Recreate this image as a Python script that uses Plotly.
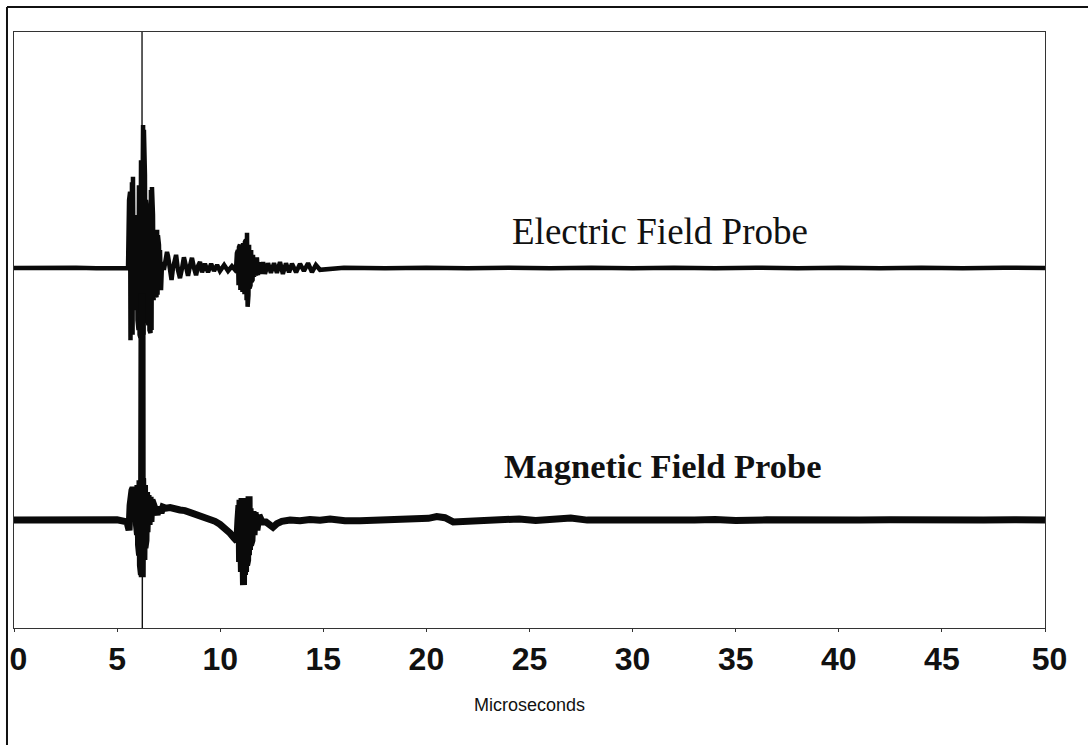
import plotly.graph_objects as go

# ---------------- data (time in microseconds, amplitude in arbitrary units) -------------
elec_t = [0, 1.0, 2.0, 3.0, 4.0, 5.0, 5.50,
          5.53, 5.58, 5.60, 5.63, 5.65, 5.67, 5.70, 5.72, 5.75, 5.77, 5.80, 5.82, 5.84,
          5.87, 5.89, 5.92, 5.94, 5.97, 5.99, 6.01, 6.04, 6.06, 6.09, 6.11, 6.13, 6.16,
          6.18, 6.21, 6.23, 6.26, 6.28, 6.30, 6.33, 6.35, 6.38, 6.40, 6.43, 6.45, 6.48,
          6.50, 6.52, 6.55, 6.57, 6.60, 6.62, 6.64, 6.67, 6.69, 6.72, 6.74, 6.77, 6.79,
          6.81, 6.84, 6.86, 6.89, 6.91, 6.94, 6.96, 6.98, 7.01, 7.03, 7.06, 7.08, 7.13,
          7.18, 7.27, 7.37, 7.42, 7.47, 7.57, 7.64, 7.71, 7.81, 7.86, 7.95, 8.05, 8.15,
          8.24, 8.34, 8.44, 8.53, 8.63, 8.73, 8.83, 8.92, 9.02, 9.12, 9.26, 9.41, 9.56,
          9.70, 9.85, 9.99, 10.19, 10.38, 10.57, 10.72, 10.77,
          10.81, 10.84, 10.86, 10.89, 10.91, 10.94, 10.96, 10.98, 11.01, 11.03, 11.06,
          11.08, 11.11, 11.13, 11.16, 11.18, 11.20, 11.23, 11.25, 11.28, 11.30, 11.33,
          11.35, 11.37, 11.40, 11.42, 11.45, 11.47, 11.50, 11.52, 11.54, 11.57, 11.59,
          11.64, 11.69, 11.74, 11.78, 11.83, 11.88, 11.98, 12.08, 12.17, 12.32, 12.46,
          12.61, 12.75, 12.90, 13.04, 13.19, 13.34, 13.48, 13.68, 13.87, 14.06, 14.26,
          14.45, 14.64, 14.84, 16.0, 18.0, 20.0, 22.0, 24.0, 26.0, 28.0, 30.0, 32.0,
          34.0, 36.0, 38.0, 40.0, 42.0, 44.0, 46.0, 48.0, 50.0]
elec_v = [0, 0.05, -0.05, 0.05, -0.05, 0.05, 0,
          0, 11.4, -11.2, 12.8, -12.1, 8.9, -10.4, 14.4, -11.2, 15.3, -6.2, 5.5, -5.4,
          4.7, -6.2, 6.4, -7.0, 8.9, -8.7, 11.4, -10.4, 13.9, -11.2, 16.4, -11.7, 18.1,
          -12.1, 21.5, -12.1, 24.0, -11.2, 23.2, -10.4, 15.6, -8.7, 11.4, -8.4, 9.7, -8.7,
          8.1, -9.6, 10.6, -10.4, 12.2, -10.9, 13.1, -10.4, 13.6, -7.9, 8.9, -5.4, 5.5,
          -3.7, 4.7, -4.5, 6.0, -4.9, 6.4, -4.5, 5.5, -3.7, 3.9, -2.9, 3.0, -3.7,
          1.0, -0.3, 2.2, 2.7, 2.0, -1.2, -2.0, 0, 2.0, 2.2, -0.3, -1.7, 0,
          1.8, 0.3, -1.3, 0.3, 1.7, 0, -1.2, 0.3, 1.0, -0.7, 0.7, -0.7, 0.7,
          -0.5, 0.5, -0.5, 0.5, -0.5, 0.3, -0.3, 0,
          2.5, -2.5, 3.0, -2.9, 3.5, -3.4, 3.9, -3.7, 4.0, -4.0, 3.9,
          -4.0, 4.2, -4.2, 4.0, -4.4, 4.4, -4.5, 4.7, -5.4, 5.9, -6.5,
          5.9, -4.5, 3.9, -3.4, 2.7, -2.9, 3.0, -2.3, 2.5, -2.0, 2.2,
          -1.5, 1.7, -1.3, 1.8, -1.2, 1.0, -1.0, 1.0, -1.0, 0.8, -0.8,
          0.8, -0.8, 1.0, -1.0, 0.8, -0.7, 0.7, -0.7, 0.7, -0.5, 0.8,
          -0.7, 0.5, -0.3, 0.05, -0.05, 0.05, -0.05, 0.05, -0.05, 0.05, -0.05, 0.05,
          -0.05, 0.05, -0.05, 0.05, -0.05, 0.05, -0.05, 0.05, 0]

mag_t = [0, 1.0, 2.0, 3.0, 4.0, 5.0, 5.48, 5.53, 5.58, 5.63, 5.67, 5.72, 5.77, 5.82,
         5.87, 5.92, 5.94, 5.97, 5.99, 6.01, 6.04, 6.06, 6.09, 6.11, 6.13, 6.16, 6.18,
         6.21, 6.22, 6.24, 6.26, 6.28, 6.30, 6.33, 6.35, 6.38, 6.40, 6.43, 6.45, 6.50,
         6.55, 6.60, 6.64, 6.69, 6.84, 6.94, 7.03, 7.13, 7.22, 7.37, 7.57, 7.81, 8.05,
         8.29, 8.54, 8.78, 9.02, 9.26, 9.51, 9.75, 9.99, 10.24, 10.48, 10.67, 10.81,
         10.86, 10.89, 10.91, 10.94, 10.96, 10.98, 11.01, 11.03, 11.06, 11.08, 11.11,
         11.13, 11.16, 11.18, 11.20, 11.23, 11.25, 11.28, 11.30, 11.33, 11.35, 11.37,
         11.40, 11.42, 11.45, 11.47, 11.50, 11.54, 11.59, 11.64, 11.69, 11.78, 11.88,
         12.03, 12.22, 12.42, 12.56, 12.75, 12.99, 13.39, 13.87, 14.35, 14.84, 15.33,
         16.05, 16.78, 17.5, 18.5, 19.5, 20.1, 20.5, 20.9, 21.3, 21.8, 22.5, 23.5,
         24.5, 25.3, 26.2, 27.0, 27.8, 29.0, 30.0, 31.0, 32.0, 33.0, 34.0, 35.0,
         36.5, 38.0, 39.5, 41.0, 42.5, 44.0, 45.5, 47.0, 48.5, 50.0]
mag_v = [0, 0.05, -0.05, 0.05, -0.05, 0.05, -0.3, -0.8, -1.7, 2.5, 4.7, 5.0, 5.4, 4.7,
         5.0, 4.2, -0.8, 5.4, -2.5, 5.9, -4.2, 6.4, -5.9, 6.7, -7.6, 7.0, -9.2,
         38.0, -9.6, 7.0, -9.6, 6.4, -6.7, 5.9, -4.7, 5.0, -3.4, 4.7, -2.0, 4.2,
         -0.8, 3.9, -0.3, 3.4, 2.0, 0.9, 2.2, 1.2, 2.2, 2.0, 2.1, 1.8, 1.7,
         1.6, 1.3, 1.2, 0.7, 0.5, 0.2, -0.2, -0.7, -1.3, -2.2, -3.0, -3.5,
         0, -5.9, 2.5, -7.0, 3.4, -8.4, 2.9, -8.7, 3.7, -9.7, 2.5,
         -10.9, 2.0, -9.2, 2.5, -8.7, 3.4, -7.6, 2.3, -6.7, 1.7, -5.9,
         4.0, -5.0, 2.0, -4.2, 1.7, -3.4, 1.5, -2.5, 1.3, -1.7, 0.8,
         -0.3, -0.3, -1.0, -1.2, -0.6, -0.2, 0, -0.1, 0.1, 0, 0.2,
         -0.1, -0.1, 0, 0.1, 0, 0.3, 0.6, 0.4, -0.3, -0.2, 0, 0.1,
         0.2, -0.05, 0.15, 0.35, 0, -0.05, 0.1, -0.05, 0.1, 0, 0.1, -0.05,
         0.05, -0.05, 0.1, 0, 0.05, -0.05, 0.05, 0, 0.05, 0]

# thin extension of the magnetic spike (beyond the visible range)
spike_t = [6.20, 6.21, 6.22, 6.23]
spike_v = [30.0, 120.0, -40.0, -9.0]

elec_offset = 60.4
mag_offset = 18.1

x_ticks = [0, 5, 10, 15, 20, 25, 30, 35, 40, 45, 50]
x_title = "Microseconds"
labels = ["Electric Field Probe", "Magnetic Field Probe"]

# ---------------- figure ----------------
fig = go.Figure()
fig.add_trace(go.Scatter(x=spike_t, y=[v + mag_offset for v in spike_v], mode="lines",
                         line=dict(color="#111111", width=1.2), hoverinfo="skip"))
fig.add_trace(go.Scatter(x=elec_t, y=[v + elec_offset for v in elec_v], mode="lines",
                         line=dict(color="#0a0a0a", width=4.5), hoverinfo="skip"))
fig.add_trace(go.Scatter(x=mag_t, y=[v + mag_offset for v in mag_v], mode="lines",
                         line=dict(color="#0a0a0a", width=7), hoverinfo="skip"))

fig.add_annotation(x=31.33, y=66.6, xref="x", yref="y", text=labels[0], showarrow=False,
                   font=dict(family="Liberation Serif, Times New Roman, serif", size=37,
                             color="#111111"))
fig.add_annotation(x=31.47, y=27.2, xref="x", yref="y", text="<b>" + labels[1] + "</b>",
                   showarrow=False,
                   font=dict(family="Liberation Serif, Times New Roman, serif", size=34.5,
                             color="#111111"))

# outer frame (left and top edges visible)
fig.add_shape(type="line", xref="paper", yref="paper", x0=-0.0068, x1=-0.0068,
              y0=-0.3, y1=1.042, line=dict(color="#111111", width=2))
fig.add_shape(type="line", xref="paper", yref="paper", x0=-0.0068, x1=1.06,
              y0=1.042, y1=1.042, line=dict(color="#111111", width=2))

tick_text = [("\u00a0" + str(v)) if v in (x_ticks[0], x_ticks[-1]) else str(v) for v in x_ticks]

fig.update_layout(
    width=1088, height=745,
    margin=dict(l=14, r=43, t=32, b=117),
    paper_bgcolor="white", plot_bgcolor="white",
    showlegend=False,
    xaxis=dict(range=[0, 50], tickvals=x_ticks, ticktext=tick_text,
               automargin=False,
               showgrid=False, zeroline=False, showline=True, mirror=True,
               linecolor="#333333", linewidth=1, ticks="outside", ticklen=3,
               tickcolor="#333333",
               tickfont=dict(family="Liberation Sans, Arial, sans-serif", size=32,
                             color="#111111", weight="bold"),
               title=dict(text=x_title, standoff=21,
                          font=dict(family="Liberation Sans, Arial, sans-serif", size=18,
                                    color="#111111"))),
    yaxis=dict(range=[0, 100], showgrid=False, zeroline=False, showline=True, mirror=True,
               automargin=False,
               linecolor="#333333", linewidth=1, showticklabels=False, ticks=""),
)

fig.write_html("out.html")
